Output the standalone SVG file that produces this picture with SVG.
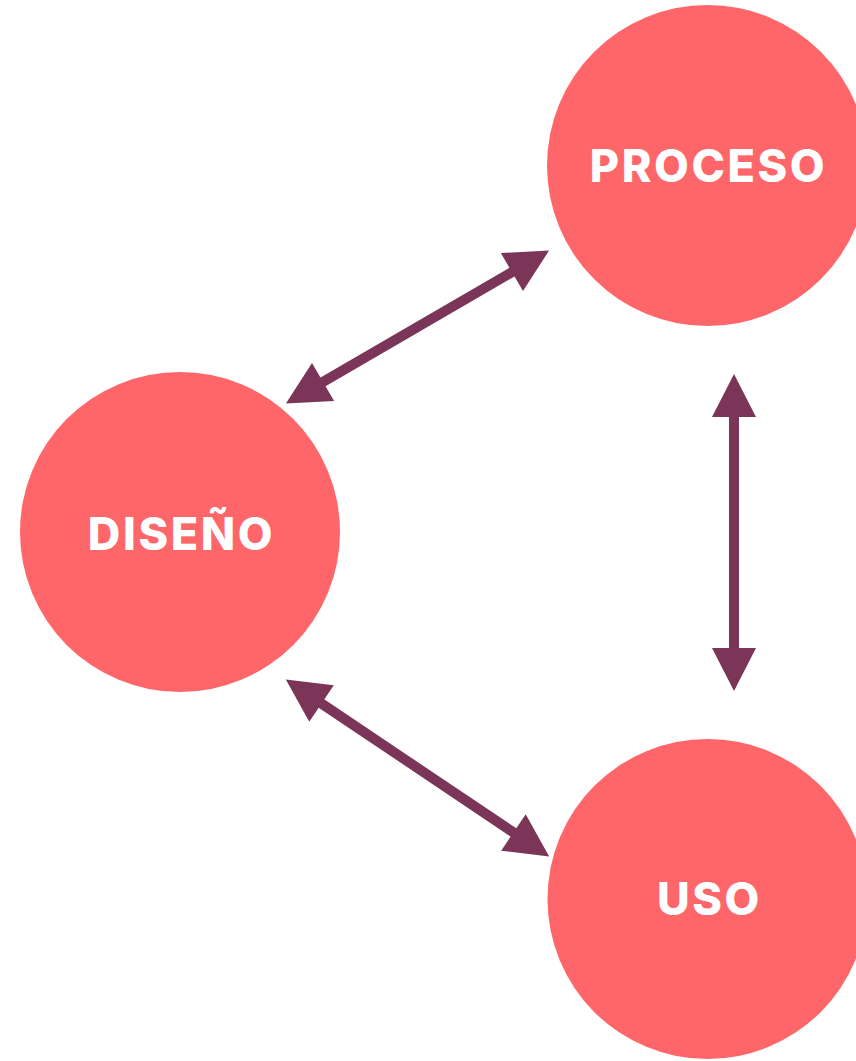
<svg xmlns="http://www.w3.org/2000/svg" width="856" height="1061" viewBox="0 0 856 1061">
<style>
.node{fill:#FF6669}
.lbl{fill:#FFFFFF;font-family:Inter,"Open Sans","Liberation Sans",sans-serif;font-weight:800;font-size:45px;letter-spacing:2.6px;text-anchor:middle}
.conn{stroke:#7B3559;stroke-width:10;fill:none;marker-start:url(#ah);marker-end:url(#ah)}
</style>
<defs>
<marker id="ah" markerUnits="userSpaceOnUse" markerWidth="44" markerHeight="44" refX="1" refY="22" orient="auto-start-reverse" viewBox="0 0 44 44" overflow="visible">
<path d="M0,0 L43,22 L0,44 z" fill="#7B3559"/>
</marker>
</defs>
<rect width="856" height="1061" fill="#FFFFFF"/>
<g id="connectors">
<line class="conn" x1="322.2" y1="382.4" x2="512.8" y2="271.6"/>
<line class="conn" x1="734" y1="416" x2="734" y2="649"/>
<line class="conn" x1="320.7" y1="703" x2="514.3" y2="833"/>
</g>
<g id="proceso">
<circle class="node" cx="707.5" cy="165.5" r="160.5"/>
<text class="lbl" x="708.5" y="182">PROCESO</text>
</g>
<g id="diseno">
<circle class="node" cx="180" cy="532" r="160"/>
<text class="lbl" x="181.5" y="550">DISEÑO</text>
</g>
<g id="uso">
<circle class="node" cx="707.5" cy="899" r="160"/>
<text class="lbl" x="709.5" y="915">USO</text>
</g>
</svg>
